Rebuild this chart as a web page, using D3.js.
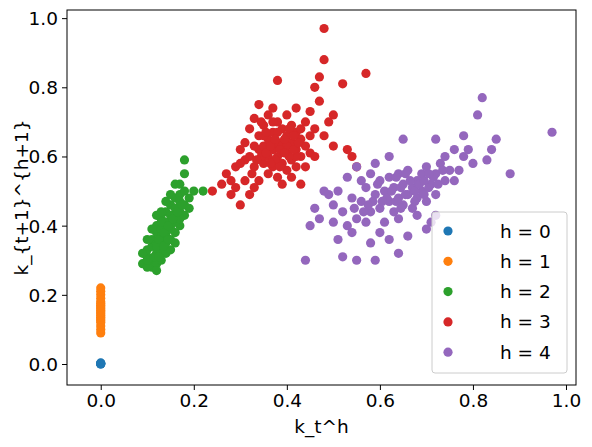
<!DOCTYPE html>
<html><head><meta charset="utf-8">
<script src="https://cdn.jsdelivr.net/npm/d3@7"></script>
<style>body{margin:0;background:#fff}text{font-family:"DejaVu Sans",sans-serif}</style>
</head><body><svg id="chart" width="592" height="447"></svg>
<script>
// data
const h0 = [[0,0],[0,0.002],[0,0.001],[0,0.003],[0,0]];
const h1 = [[0,0.09],[0,0.10],[0,0.11],[0,0.12],[0,0.125],[0,0.13],[0,0.135],[0,0.14],[0,0.145],[0,0.15],[0,0.155],[0,0.16],[0,0.165],[0,0.17],[0,0.175],[0,0.18],[0,0.19],[0,0.20],[0,0.21],[0,0.22]];
const h2 = [[0.09,0.29],[0.10,0.31],[0.10,0.33],[0.11,0.30],[0.11,0.34],[0.11,0.36],[0.12,0.32],[0.12,0.35],[0.12,0.38],[0.12,0.40],[0.13,0.33],[0.13,0.37],[0.13,0.39],[0.13,0.42],[0.14,0.35],[0.14,0.38],[0.14,0.41],[0.14,0.44],[0.15,0.36],[0.15,0.40],[0.15,0.43],[0.15,0.46],[0.16,0.38],[0.16,0.42],[0.16,0.45],[0.16,0.48],[0.17,0.40],[0.17,0.44],[0.17,0.49],[0.17,0.52],[0.18,0.46],[0.18,0.50],[0.18,0.55],[0.18,0.59],[0.19,0.48],[0.19,0.45],[0.20,0.50],[0.22,0.50],[0.11,0.28],[0.12,0.29],[0.10,0.36],[0.12,0.43],[0.14,0.32],[0.15,0.33],[0.13,0.30],[0.16,0.35],[0.10,0.28],[0.14,0.47],[0.15,0.49],[0.17,0.47],[0.09,0.32],[0.12,0.27],[0.13,0.44],[0.16,0.52],[0.18,0.43],[0.11,0.39],[0.13,0.35],[0.14,0.37],[0.15,0.39],[0.16,0.41],[0.12,0.34],[0.13,0.41],[0.17,0.42],[0.10,0.30],[0.115,0.31],[0.125,0.36],[0.135,0.38],[0.145,0.40],[0.155,0.42],[0.165,0.44],[0.175,0.46],[0.125,0.31],[0.135,0.34],[0.145,0.36]];
const h3 = [[0.48,0.97],[0.48,0.88],[0.47,0.83],[0.46,0.80],[0.38,0.82],[0.47,0.76],[0.52,0.81],[0.57,0.84],[0.50,0.72],[0.49,0.70],[0.53,0.62],[0.54,0.60],[0.50,0.63],[0.55,0.57],[0.26,0.52],[0.28,0.49],[0.30,0.46],[0.27,0.55],[0.29,0.57],[0.31,0.59],[0.32,0.49],[0.34,0.53],[0.38,0.54],[0.40,0.56],[0.43,0.52],[0.42,0.57],[0.24,0.50],[0.31,0.64],[0.32,0.68],[0.33,0.71],[0.34,0.62],[0.34,0.66],[0.35,0.58],[0.35,0.63],[0.35,0.69],[0.36,0.60],[0.36,0.65],[0.36,0.72],[0.37,0.57],[0.37,0.62],[0.37,0.67],[0.38,0.60],[0.38,0.64],[0.38,0.70],[0.39,0.58],[0.39,0.63],[0.39,0.68],[0.40,0.61],[0.40,0.66],[0.40,0.72],[0.41,0.59],[0.41,0.64],[0.41,0.69],[0.42,0.62],[0.42,0.67],[0.43,0.60],[0.43,0.65],[0.44,0.63],[0.44,0.70],[0.45,0.66],[0.45,0.61],[0.46,0.68],[0.33,0.57],[0.32,0.60],[0.30,0.62],[0.36,0.55],[0.39,0.52],[0.41,0.54],[0.44,0.57],[0.46,0.60],[0.34,0.75],[0.37,0.74],[0.42,0.74],[0.45,0.73],[0.48,0.66],[0.29,0.51],[0.31,0.53],[0.33,0.63],[0.35,0.66],[0.38,0.67],[0.40,0.63],[0.42,0.60],[0.37,0.70],[0.345,0.60],[0.355,0.61],[0.365,0.63],[0.375,0.59],[0.385,0.62],[0.395,0.65],[0.405,0.60],[0.415,0.62],[0.425,0.64],[0.375,0.65],[0.385,0.57],[0.395,0.61],[0.355,0.67],[0.405,0.68],[0.365,0.58],[0.335,0.59],[0.415,0.66],[0.325,0.55],[0.345,0.70],[0.30,0.58],[0.28,0.53],[0.33,0.51],[0.43,0.68]];
const h4 = [[0.97,0.67],[0.88,0.55],[0.85,0.65],[0.82,0.77],[0.81,0.72],[0.78,0.66],[0.79,0.62],[0.83,0.59],[0.84,0.62],[0.77,0.56],[0.45,0.40],[0.46,0.45],[0.44,0.30],[0.50,0.46],[0.51,0.36],[0.52,0.31],[0.55,0.30],[0.58,0.35],[0.59,0.30],[0.64,0.32],[0.66,0.37],[0.71,0.41],[0.70,0.39],[0.72,0.43],[0.76,0.53],[0.72,0.65],[0.65,0.65],[0.62,0.60],[0.59,0.58],[0.55,0.57],[0.53,0.54],[0.49,0.49],[0.48,0.50],[0.52,0.44],[0.55,0.42],[0.56,0.47],[0.57,0.51],[0.58,0.44],[0.59,0.49],[0.60,0.53],[0.60,0.45],[0.61,0.50],[0.62,0.47],[0.62,0.54],[0.63,0.44],[0.63,0.51],[0.64,0.48],[0.64,0.55],[0.65,0.46],[0.65,0.52],[0.66,0.49],[0.66,0.56],[0.67,0.45],[0.67,0.51],[0.68,0.53],[0.68,0.48],[0.69,0.55],[0.69,0.50],[0.70,0.47],[0.70,0.57],[0.71,0.52],[0.72,0.55],[0.72,0.49],[0.73,0.58],[0.74,0.53],[0.74,0.60],[0.75,0.56],[0.76,0.62],[0.57,0.41],[0.54,0.48],[0.53,0.40],[0.61,0.41],[0.64,0.42],[0.68,0.43],[0.58,0.55],[0.56,0.53],[0.51,0.50],[0.47,0.42],[0.60,0.38],[0.62,0.36],[0.80,0.58],[0.78,0.60],[0.615,0.48],[0.625,0.50],[0.635,0.47],[0.645,0.51],[0.655,0.49],[0.665,0.53],[0.675,0.50],[0.685,0.52],[0.695,0.53],[0.705,0.51],[0.715,0.54],[0.605,0.47],[0.595,0.52],[0.585,0.47],[0.575,0.46],[0.655,0.55],[0.675,0.47],[0.695,0.49],[0.705,0.55],[0.725,0.52],[0.735,0.56],[0.645,0.45],[0.565,0.44],[0.545,0.45],[0.635,0.54],[0.54,0.38],[0.50,0.41]];
const series = [h0, h1, h2, h3, h4];
const labels = ["h = 0", "h = 1", "h = 2", "h = 3", "h = 4"];
const colors = ["#1f77b4", "#ff7f0e", "#2ca02c", "#d62728", "#9467bd"];
const xTicks = [0, 0.2, 0.4, 0.6, 0.8, 1.0];
const yTicks = [0, 0.2, 0.4, 0.6, 0.8, 1.0];

const svg = d3.select("#chart");
const L = 67, R = 576, T = 10, B = 385;
const x = d3.scaleLinear().domain([-0.0725, 1.0215]).range([L, R]);
const y = d3.scaleLinear().domain([-0.0607, 1.0235]).range([B, T]);

series.forEach((pts, i) => {
  svg.append("g").selectAll("circle").data(pts).enter().append("circle")
    .attr("cx", d => x(d[0])).attr("cy", d => y(d[1])).attr("r", 4.6)
    .attr("fill", colors[i]);
});

const ax = svg.append("g").attr("transform", "translate(0," + B + ")")
  .call(d3.axisBottom(x).tickValues(xTicks).tickFormat(d3.format(".1f")).tickSize(5).tickPadding(4));
const ay = svg.append("g").attr("transform", "translate(" + L + ",0)")
  .call(d3.axisLeft(y).tickValues(yTicks).tickFormat(d3.format(".1f")).tickSize(5).tickPadding(4));
[ax, ay].forEach(a => { a.selectAll("text").attr("font-size", 18.5).attr("fill", "#000"); a.select(".domain").remove(); });
ay.selectAll("text").attr("dy", "0.35em");
svg.append("rect").attr("x", L).attr("y", T).attr("width", R - L).attr("height", B - T)
  .attr("fill", "none").attr("stroke", "#000").attr("stroke-width", 1);

svg.append("text").attr("x", (L + R) / 2).attr("y", 433).attr("text-anchor", "middle")
  .attr("font-size", 18.5).text("k_t^h");
svg.append("text").attr("transform", "translate(28," + (T + B) / 2 + ") rotate(-90)")
  .attr("text-anchor", "middle").attr("font-size", 18.5).text("k_{t+1}^{h+1}");

const lg = svg.append("g");
lg.append("rect").attr("x", 432).attr("y", 212).attr("width", 135).attr("height", 161).attr("rx", 3)
  .attr("fill", "#fff").attr("fill-opacity", 0.8).attr("stroke", "#ccc");
labels.forEach((t, i) => {
  const cy = 231 + i * 30.3;
  lg.append("circle").attr("cx", 448).attr("cy", cy).attr("r", 4.6).attr("fill", colors[i]);
  lg.append("text").attr("x", 500).attr("y", cy + 6.5).attr("font-size", 18.5).text(t);
});
</script></body></html>
